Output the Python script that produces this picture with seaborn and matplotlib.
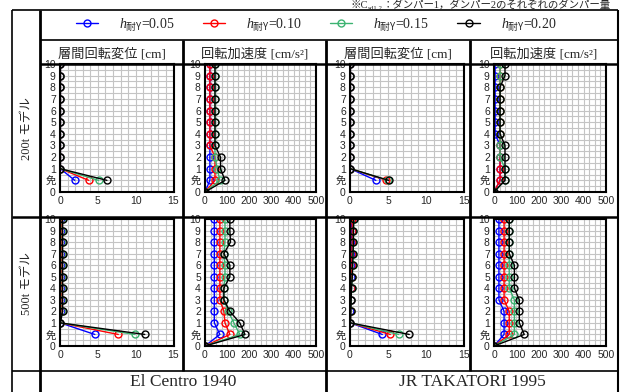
import numpy as np
import pandas as pd
import seaborn as sns
import matplotlib.pyplot as plt

W, H = 621, 392

LEVEL_LABELS = ["0", "免", "1", "2", "3", "4", "5", "6", "7", "8", "9", "10"]
H_VALUES = ["0.05", "0.10", "0.15", "0.20"]
COLORS = ["#0000ff", "#ff0000", "#3cb371", "#000000"]

# interstory drift [cm], levels 免,1..10  (one row per h)
ec_200_disp = [
    [1.95, 0.05, 0.05, 0.05, 0.05, 0.05, 0.05, 0.05, 0.05, 0.05, 0.05],
    [3.8, 0.05, 0.05, 0.05, 0.05, 0.05, 0.05, 0.05, 0.05, 0.05, 0.05],
    [5.1, 0.05, 0.05, 0.05, 0.05, 0.05, 0.05, 0.05, 0.05, 0.05, 0.05],
    [6.2, 0.05, 0.05, 0.05, 0.05, 0.05, 0.05, 0.05, 0.05, 0.05, 0.05],
]
ec_500_disp = [
    [4.6, 0.05, 0.1, 0.1, 0.1, 0.1, 0.1, 0.1, 0.1, 0.1, 0.1],
    [7.7, 0.05, 0.2, 0.2, 0.2, 0.2, 0.2, 0.2, 0.2, 0.2, 0.2],
    [9.9, 0.05, 0.3, 0.3, 0.3, 0.3, 0.3, 0.3, 0.3, 0.3, 0.3],
    [11.2, 0.05, 0.35, 0.35, 0.35, 0.35, 0.35, 0.35, 0.35, 0.35, 0.35],
]
jr_200_disp = [
    [3.4, 0.05, 0.05, 0.05, 0.05, 0.05, 0.05, 0.05, 0.05, 0.05, 0.05],
    [4.8, 0.05, 0.05, 0.05, 0.05, 0.05, 0.05, 0.05, 0.05, 0.05, 0.05],
    [5.0, 0.05, 0.05, 0.05, 0.05, 0.05, 0.05, 0.05, 0.05, 0.05, 0.05],
    [5.1, 0.05, 0.05, 0.05, 0.05, 0.05, 0.05, 0.05, 0.05, 0.05, 0.05],
]
jr_500_disp = [
    [4.25, 0.05, 0.05, 0.1, 0.1, 0.1, 0.15, 0.15, 0.15, 0.2, 0.2],
    [5.3, 0.05, 0.1, 0.1, 0.15, 0.2, 0.25, 0.25, 0.3, 0.3, 0.3],
    [6.4, 0.05, 0.1, 0.15, 0.2, 0.3, 0.35, 0.4, 0.45, 0.45, 0.5],
    [7.8, 0.05, 0.1, 0.15, 0.2, 0.3, 0.35, 0.4, 0.45, 0.45, 0.5],
]

# rotational acceleration [cm/s2], levels 0,免,1..10
ec_200_acc = [
    [0, 22, 22, 22, 22, 22, 22, 22, 22, 22, 22, 22],
    [0, 45, 45, 45, 22, 22, 22, 22, 22, 22, 22, 22],
    [0, 67, 55, 45, 45, 45, 45, 45, 45, 45, 45, 45],
    [0, 90, 70, 70, 45, 45, 45, 45, 45, 45, 45, 45],
]
ec_500_acc = [
    [0, 67, 42, 42, 42, 42, 42, 42, 42, 42, 42, 42],
    [0, 112, 90, 85, 67, 67, 67, 67, 67, 67, 67, 67],
    [0, 157, 130, 105, 85, 85, 90, 90, 85, 90, 90, 90],
    [0, 180, 157, 112, 85, 85, 112, 112, 85, 115, 112, 112],
]
jr_200_acc = [
    [0, 27, 27, 27, 27, 5, 5, 5, 5, 5, 5, 5],
    [0, 27, 27, 27, 27, 27, 27, 27, 27, 27, 27, 27],
    [0, 49, 49, 27, 27, 27, 27, 27, 27, 27, 27, 27],
    [0, 49, 49, 49, 49, 27, 27, 27, 27, 27, 49, 49],
]
jr_500_acc = [
    [0, 45, 45, 45, 22, 22, 22, 22, 22, 22, 22, 22],
    [0, 68, 68, 68, 45, 45, 45, 45, 45, 45, 45, 45],
    [0, 91, 91, 91, 91, 68, 68, 68, 68, 68, 68, 68],
    [0, 135, 113, 113, 113, 91, 91, 91, 68, 68, 68, 68],
]

sns.set_theme(style="white")
plt.rcParams["font.family"] = ["Liberation Sans", "Noto Sans CJK JP"]
plt.rcParams["mathtext.fontset"] = "custom"
plt.rcParams["mathtext.rm"] = "Noto Sans CJK JP"
plt.rcParams["mathtext.it"] = "Liberation Serif:italic"
SERIF = ["Liberation Serif", "Noto Sans CJK JP"]

fig = plt.figure(figsize=(W / 100, H / 100), dpi=100)


def px_axes(x0, y0, x1, y1):
    return fig.add_axes([x0 / W, 1 - y1 / H, (x1 - x0) / W, (y1 - y0) / H])


def to_frame(rows, start):
    recs = []
    for h, vals in zip(H_VALUES, rows):
        for i, v in enumerate(vals):
            recs.append({"h": h, "value": v, "level": start + i})
    return pd.DataFrame(recs)


def draw_panel(ax, rows, kind):
    df = to_frame(rows, 1 if kind == "disp" else 0)
    sns.lineplot(data=df, x="value", y="level", hue="h", hue_order=H_VALUES,
                 palette=COLORS, estimator=None, sort=False, marker="o",
                 markersize=5, linewidth=1, legend=False, ax=ax)
    for ln in ax.lines:
        ln.set_markerfacecolor("none")
        ln.set_markeredgecolor(ln.get_color())
        ln.set_markeredgewidth(1)
    if kind == "disp":
        ax.set_xlim(0, 15)
        ax.set_xticks([0, 5, 10, 15])
        ax.set_xticks(np.arange(0, 16, 1), minor=True)
    else:
        ax.set_xlim(0, 500)
        ax.set_xticks(np.arange(0, 501, 100))
        ax.set_xticks(np.arange(0, 501, 25), minor=True)
    ax.set_ylim(0, 11)
    ax.set_yticks(range(12))
    ax.set_yticklabels(LEVEL_LABELS)
    ax.set_yticks(np.arange(0, 11.01, 0.5), minor=True)
    ax.grid(which="both", color="#c4c4c4", linewidth=0.8)
    ax.set_axisbelow(True)
    ax.set_xlabel("")
    ax.set_ylabel("")
    ax.tick_params(which="both", length=0, labelsize=7.5, pad=3)
    for s in ax.spines.values():
        s.set_color("black")
        s.set_linewidth(1.5)


cols = [(60, 173.5), (205, 316), (350, 464), (494, 606)]
rows_px = [(64, 192), (219, 346)]
panel_data = [
    [ec_200_disp, ec_200_acc, jr_200_disp, jr_200_acc],
    [ec_500_disp, ec_500_acc, jr_500_disp, jr_500_acc],
]
kinds = ["disp", "acc", "disp", "acc"]
axes = []
for r, (y0, y1) in enumerate(rows_px):
    for c, (x0, x1) in enumerate(cols):
        ax = px_axes(x0, y0, x1, y1)
        draw_panel(ax, panel_data[r][c], kinds[c])
        axes.append(ax)

# table frame drawn on top of everything
ov = fig.add_axes([0, 0, 1, 1], zorder=10)
ov.set_xlim(0, W)
ov.set_ylim(H, 0)
ov.axis("off")
ov.patch.set_alpha(0)

k = dict(color="black", solid_capstyle="butt")
ov.plot([12, 618], [10, 10], lw=1.2, **k)
ov.plot([40, 618], [40, 40], lw=1.2, **k)
ov.plot([40, 618], [64, 64], lw=1.8, **k)
ov.plot([12, 618], [217, 217], lw=1.8, **k)
ov.plot([12, 618], [371, 371], lw=1.2, **k)
ov.plot([12, 12], [10, 392], lw=1.2, **k)
ov.plot([40, 40], [10, 392], lw=2, **k)
ov.plot([618, 618], [10, 392], lw=1.5, **k)
ov.plot([326, 326], [40, 392], lw=2, **k)
for x in (183, 470):
    ov.plot([x, x], [40, 371], lw=2, **k)

headers = ["層間回転変位 [cm]", "回転加速度 [cm/s²]", "層間回転変位 [cm]", "回転加速度 [cm/s²]"]
for xc, t in zip([111.5, 254.5, 398, 544], headers):
    ov.text(xc, 54, t, ha="center", va="center", fontsize=9.5, family=SERIF)

ov.text(27, 129, "200t モデル", rotation=90, ha="center", va="center", fontsize=9, family=SERIF)
ov.text(27, 284, "500t モデル", rotation=90, ha="center", va="center", fontsize=9, family=SERIF)
ov.text(183, 382, "El Centro 1940", ha="center", va="center", fontsize=12.5, family=SERIF)
ov.text(472, 382, "JR TAKATORI 1995", ha="center", va="center", fontsize=12.5, family=SERIF)

# note line above the table, built from pieces (subscript drawn as small text)
rend = fig.canvas.get_renderer()
pieces = [("※C", 7.5, 9.5), ("sd1,2", 5, 10.5), ("：ダンパー1，ダンパー2のそれぞれのダンパー量", 7.5, 9.5)]
x = 350
for txt, fs, yb in pieces:
    t = ov.text(x, yb, txt, ha="left", va="bottom", fontsize=fs, family=SERIF)
    x = t.get_window_extent(rend).x1

labels = [r"$h_{\mathrm{耐Y}}$=" + h for h in H_VALUES]
fig.legend(axes[0].lines[:4], labels, loc="center", ncol=4,
           bbox_to_anchor=(316 / W, 1 - 25 / H), frameon=False,
           prop={"family": SERIF, "size": 10}, handlelength=1.6,
           handletextpad=1.5, columnspacing=2.05)

fig.savefig("out.png", dpi=100)
